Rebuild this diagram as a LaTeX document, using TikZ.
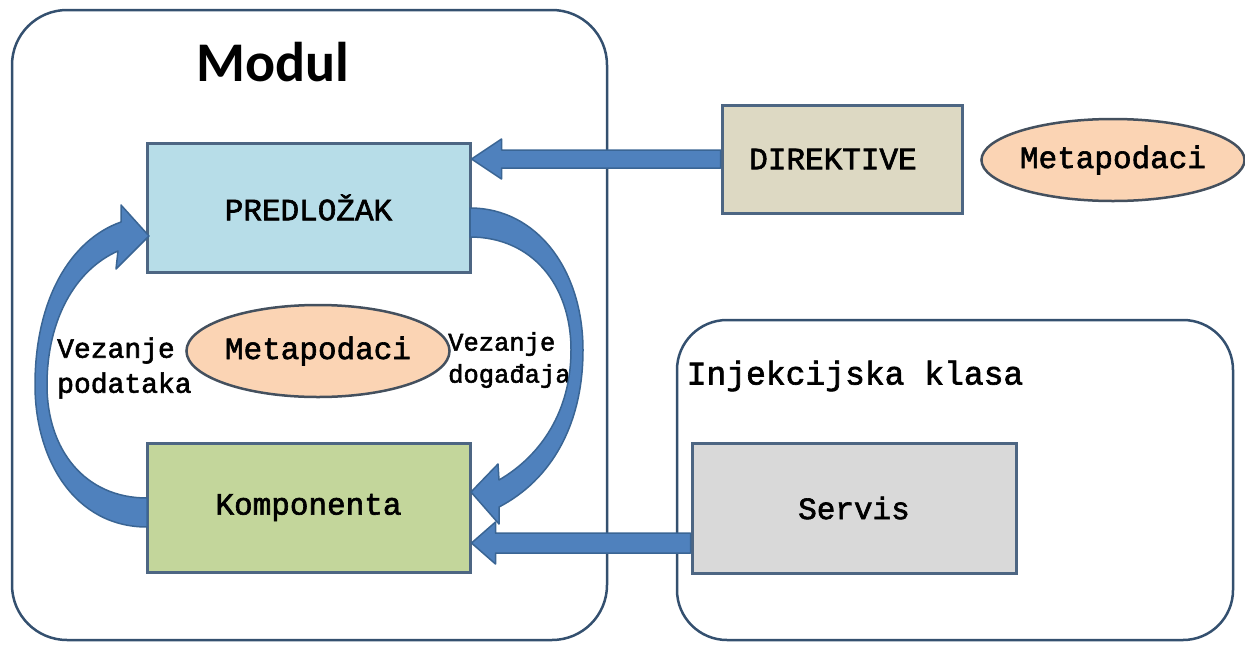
\documentclass[tikz,border=0pt]{standalone}
\usepackage{fontspec}
\newfontfamily\monofont[FakeBold=2]{Liberation Mono}
\newfontfamily\titlefont{Carlito}
\usetikzlibrary{calc,shapes.geometric}

\definecolor{framecol}{HTML}{34506F}
\definecolor{boxline}{HTML}{4D6683}
\definecolor{tmplfill}{HTML}{B7DDE8}
\definecolor{compfill}{HTML}{C3D69B}
\definecolor{dirfill}{HTML}{DDD9C3}
\definecolor{servfill}{HTML}{D9D9D9}
\definecolor{metafill}{HTML}{FBD4B4}
\definecolor{metaline}{HTML}{44505E}
\definecolor{arrowfill}{HTML}{4F81BD}
\definecolor{arrowline}{HTML}{3A6594}

% block arrow pointing left: from, tip, shaft half width, head half width, head length
\newcommand{\blockarrow}[5]{%
  \draw[bigarrow] ($(#1)+(0,-#3)$) -- ($(#2)+(#5,-#3)$) -- ($(#2)+(#5,-#4)$) -- (#2)
    -- ($(#2)+(#5,#4)$) -- ($(#2)+(#5,#3)$) -- ($(#1)+(0,#3)$) -- cycle;}

\begin{document}
\begin{tikzpicture}[x=1pt,y=-1pt]
		\useasboundingbox (0,0) rectangle (1245,646);
		\tikzstyle{frame}=[draw=framecol,line width=2.5pt,rounded corners=55pt]
		\tikzstyle{block}=[draw=boxline,line width=3pt,font=\monofont\fontsize{31}{36}\selectfont]
		\tikzstyle{meta}=[ellipse,draw=metaline,line width=2.5pt,fill=metafill,inner sep=0pt,font=\monofont\fontsize{31}{36}\selectfont]
		\tikzstyle{bindtext}=[align=left,inner sep=0pt,font=\monofont\fontsize{28}{35}\selectfont]
		\tikzstyle{bigarrow}=[fill=arrowfill,draw=arrowline,line width=1.5pt,line join=round]
		% containers
		\node[frame,minimum width=595pt,minimum height=630pt] (modul) at (309.5,325) {};
		\node[font=\titlefont\bfseries\fontsize{56}{60}\selectfont] (modultitle) at (273,62) {Modul};
		\node[frame,rounded corners=50pt,minimum width=556pt,minimum height=320pt] (injclass) at (955,480) {};
		\node[font=\monofont\fontsize{33}{38}\selectfont] (injtitle) at (855,376) {Injekcijska klasa};
		% boxes
		\node[block,fill=tmplfill,minimum width=323pt,minimum height=129pt] (predlozak) at (308.5,207.5) {\raisebox{-5pt}{PREDLOŽAK}};
		\node[block,fill=compfill,minimum width=323pt,minimum height=129pt] (komponenta) at (308.5,507.5) {\raisebox{5pt}{Komponenta}};
		\node[block,fill=dirfill,minimum width=240pt,minimum height=108pt] (direktive) at (842,159) {DIREKTIVE\kern18pt};
		\node[block,fill=servfill,minimum width=324pt,minimum height=130pt] (servis) at (854,508) {Servis};
		\node[meta,minimum width=253pt,minimum height=92pt] (metaleft) at (318,351) {Metapodaci};
		\node[meta,minimum width=253pt,minimum height=82pt] (metaright) at (1113,160) {Metapodaci};
		\node[bindtext,anchor=west] (datab) at (57,368) {Vezanje\\podataka};
		\node[bindtext,anchor=west,font=\monofont\fontsize{25.5}{32}\selectfont] (eventb) at (448,360) {Vezanje\\događaja};
		% straight arrows
		\coordinate (dirfrom) at (direktive.west);
		\coordinate (dirtip) at (predlozak.east|-dirfrom);
		\blockarrow{dirfrom}{dirtip}{9}{20}{30}
		\coordinate (servfrom) at ($(servis.west)+(0,35)$);
		\coordinate (servtip) at (komponenta.east|-servfrom);
		\blockarrow{servfrom}{servtip}{10}{21}{24}
		% curved arrows
		\draw[bigarrow] (147,527) .. controls (75,527) and (35,460) .. (35,385)
			.. controls (35,300) and (70,240) .. (121,222) -- (121,205) -- (149,236) -- (116,269) -- (118,251)
			.. controls (75,270) and (47,320) .. (47,385) .. controls (47,450) and (85,498) .. (147,498) -- cycle;
		\draw[bigarrow] (470,208) .. controls (537,208) and (583,270) .. (583,350)
			.. controls (583,425) and (551,480) .. (499,507) -- (499,524) -- (471,492) -- (498,464) -- (499,480)
			.. controls (542,455) and (571,410) .. (571,350) .. controls (571,285) and (532,237) .. (470,237) -- cycle;
	\end{tikzpicture}
\end{document}
